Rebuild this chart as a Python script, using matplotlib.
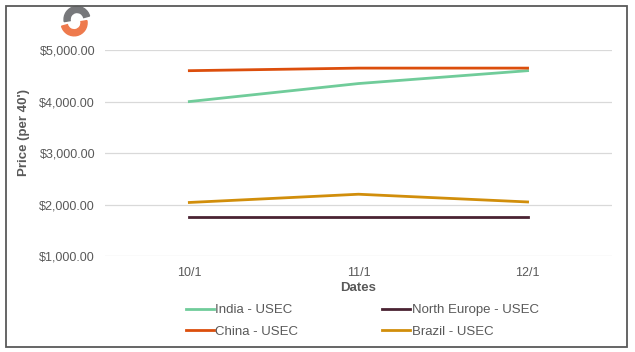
import matplotlib.pyplot as plt
from matplotlib.patches import Wedge, Rectangle
from matplotlib.ticker import FuncFormatter

plt.rcParams['font.family'] = ['Liberation Sans', 'DejaVu Sans']

dates = ['10/1', '11/1', '12/1']
india = [4000, 4350, 4600]
china = [4600, 4650, 4650]
north_europe = [1750, 1750, 1750]
brazil = [2040, 2200, 2050]

grey = '#595959'

fig = plt.figure(figsize=(6.35, 3.52), dpi=100)
ax = fig.add_axes([0.165, 0.2727, 0.799, 0.585])

x = range(len(dates))
ax.plot(x, india, color='#70CC9A', lw=2.0, label='India - USEC')
ax.plot(x, china, color='#DC4E0C', lw=2.0, label='China - USEC')
ax.plot(x, north_europe, color='#4A2332', lw=2.0, label='North Europe - USEC')
ax.plot(x, brazil, color='#D18E0B', lw=2.0, label='Brazil - USEC')

ax.set_xlim(-0.5, 2.5)
ax.set_ylim(1000, 5000)
ax.set_yticks([1000, 2000, 3000, 4000, 5000])
ax.yaxis.set_major_formatter(FuncFormatter(lambda v, p: '${:,.2f}'.format(v)))
ax.set_xticks(list(x))
ax.set_xticklabels(dates)
ax.grid(axis='y', color='#d9d9d9', lw=0.9)
ax.set_axisbelow(True)
for s in ax.spines.values():
    s.set_visible(False)
ax.tick_params(length=0, colors=grey, labelsize=9, pad=8)
ax.tick_params(axis='y', pad=7)

ax.set_ylabel("Price (per 40')", color=grey, fontsize=9.5, fontweight='bold')
ax.yaxis.set_label_coords(-0.148, 0.6)
ax.set_xlabel('Dates', color=grey, fontsize=9.5, fontweight='bold', labelpad=2)

leg = fig.legend(ncol=2, loc='upper left', bbox_to_anchor=(186 / 635, 1 - 304 / 352),
                 frameon=False, fontsize=9.5, handlelength=2.1, handletextpad=0.1,
                 columnspacing=6.4, labelspacing=0.72, borderaxespad=0, borderpad=0)
for t in leg.get_texts():
    t.set_color(grey)

# logo
lax = fig.add_axes([0.093, 0.895, 0.052, 0.09])
lax.set_aspect('equal')
lax.axis('off')
lax.set_xlim(-1.1, 1.1)
lax.set_ylim(-1.1, 1.1)
lax.add_patch(Wedge((0.1, 0.12), 0.9, 15, 190, width=0.42, color='#77787B'))
lax.add_patch(Wedge((-0.1, -0.12), 0.9, 195, 370, width=0.42, color='#EE7A4D'))

# border
fig.patches.append(Rectangle((0.009, 0.014), 0.979, 0.97, transform=fig.transFigure,
                             fill=False, edgecolor=grey, lw=1.3))

fig.savefig('out.png', dpi=100)
